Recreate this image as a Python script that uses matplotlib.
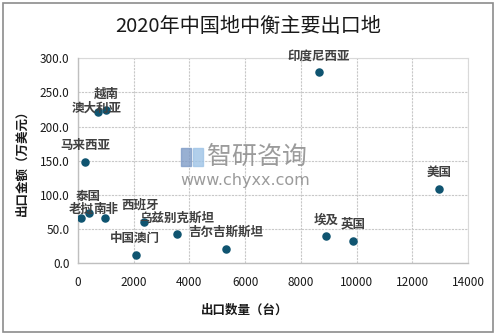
import numpy as np
import matplotlib.pyplot as plt
from matplotlib.patches import Rectangle

plt.rcParams['font.family'] = ['Noto Sans CJK SC', 'DejaVu Sans']

# 数据
countries = ["印度尼西亚", "美国", "埃及", "英国", "吉尔吉斯斯坦", "乌兹别克斯坦",
             "西班牙", "中国澳门", "泰国", "老挝", "南非", "马来西亚", "澳大利亚", "越南"]
qty = [8660, 12970, 8910, 9880, 5320, 3540, 2380, 2090, 380, 120, 980, 260, 730, 1020]
amount = [279.5, 108.3, 39.5, 32.6, 20.9, 42.4, 60.0, 11.7, 73.2, 65.9, 65.9, 147.8, 221.0, 224.0]

# 标签偏移（像素）
offsets = {"老挝": (0, 9), "南非": (0, 9), "澳大利亚": (-2, 4), "吉尔吉斯斯坦": (0, 17),
           "西班牙": (-4, 17), "中国澳门": (-1, 17)}

fig = plt.figure(figsize=(4.96, 3.35), dpi=100)
ax = fig.add_axes([78 / 496, 1 - 263.3 / 335, 390 / 496, 205 / 335])

ax.scatter(qty, amount, s=26, color="#0f5470", zorder=3)

for name, x, y in zip(countries, qty, amount):
    dx, dy = offsets.get(name, (0, 16.5))
    ax.annotate(name, (x, y), xytext=(dx * 0.72, dy * 0.72), textcoords="offset points",
                ha="center", va="center", fontsize=9, fontweight="bold", color="#404040", zorder=4)

ax.set_xlim(0, 14000)
ax.set_ylim(0, 300)
ax.set_xticks(np.arange(0, 14001, 2000))
ax.set_yticks(np.arange(0, 301, 50))
ax.set_yticklabels([f"{v:.1f}" for v in np.arange(0, 301, 50)])
ax.tick_params(length=0, labelsize=8.5, colors="#1a1a1a", pad=6)
ax.tick_params(axis="x", pad=9)
ax.grid(True, color="#c8c8c8", linestyle=(0, (2, 1)), linewidth=0.8)
ax.set_axisbelow(True)
for s in ["top", "right"]:
    ax.spines[s].set_visible(False)
for s in ["left", "bottom"]:
    ax.spines[s].set_color("#bfbfbf")
    ax.spines[s].set_linewidth(1.0)
ax.plot([14000, 14000], [0, 300], color="#d9d9d9", linewidth=0.8, clip_on=False)
ax.plot([0, 14000], [300, 300], color="#d9d9d9", linewidth=0.8, clip_on=False)

fig.text(248 / 496, 1 - 27 / 335, "2020年中国地中衡主要出口地", ha="center", va="center",
         fontsize=14.5, color="#1a1a1a")
fig.text(245 / 496, 1 - 310 / 335, "出口数量（台）", ha="center", va="center",
         fontsize=9, fontweight="bold", color="#1a1a1a")
fig.text(22 / 496, 1 - 160 / 335, "出口金额（万美元）", ha="center", va="center",
         rotation=90, fontsize=9, fontweight="bold", color="#1a1a1a")

# 水印
fig.text(207 / 496, 1 - 157 / 335, "智研咨询", ha="left", va="center",
         fontsize=18, color="#8a8a8a", alpha=0.85)
fig.text(180 / 496, 1 - 181 / 335, "www.chyxx.com", ha="left", va="center",
         fontsize=11.5, color="#8a8a8a", alpha=0.85, family="DejaVu Sans")
fig.patches.append(Rectangle((181 / 496, 1 - 166 / 335), 10 / 496, 18 / 335,
                             transform=fig.transFigure, color="#7f9cc7", alpha=0.8))
fig.patches.append(Rectangle((193 / 496, 1 - 166 / 335), 10 / 496, 18 / 335,
                             transform=fig.transFigure, color="#9ec3e6", alpha=0.8))

# 外框
fig.patches.append(Rectangle((3 / 496, 3 / 335), 490 / 496, 329 / 335, transform=fig.transFigure,
                             fill=False, edgecolor="#8c8c8c", linewidth=1.2))

fig.savefig("out.png", dpi=100)
